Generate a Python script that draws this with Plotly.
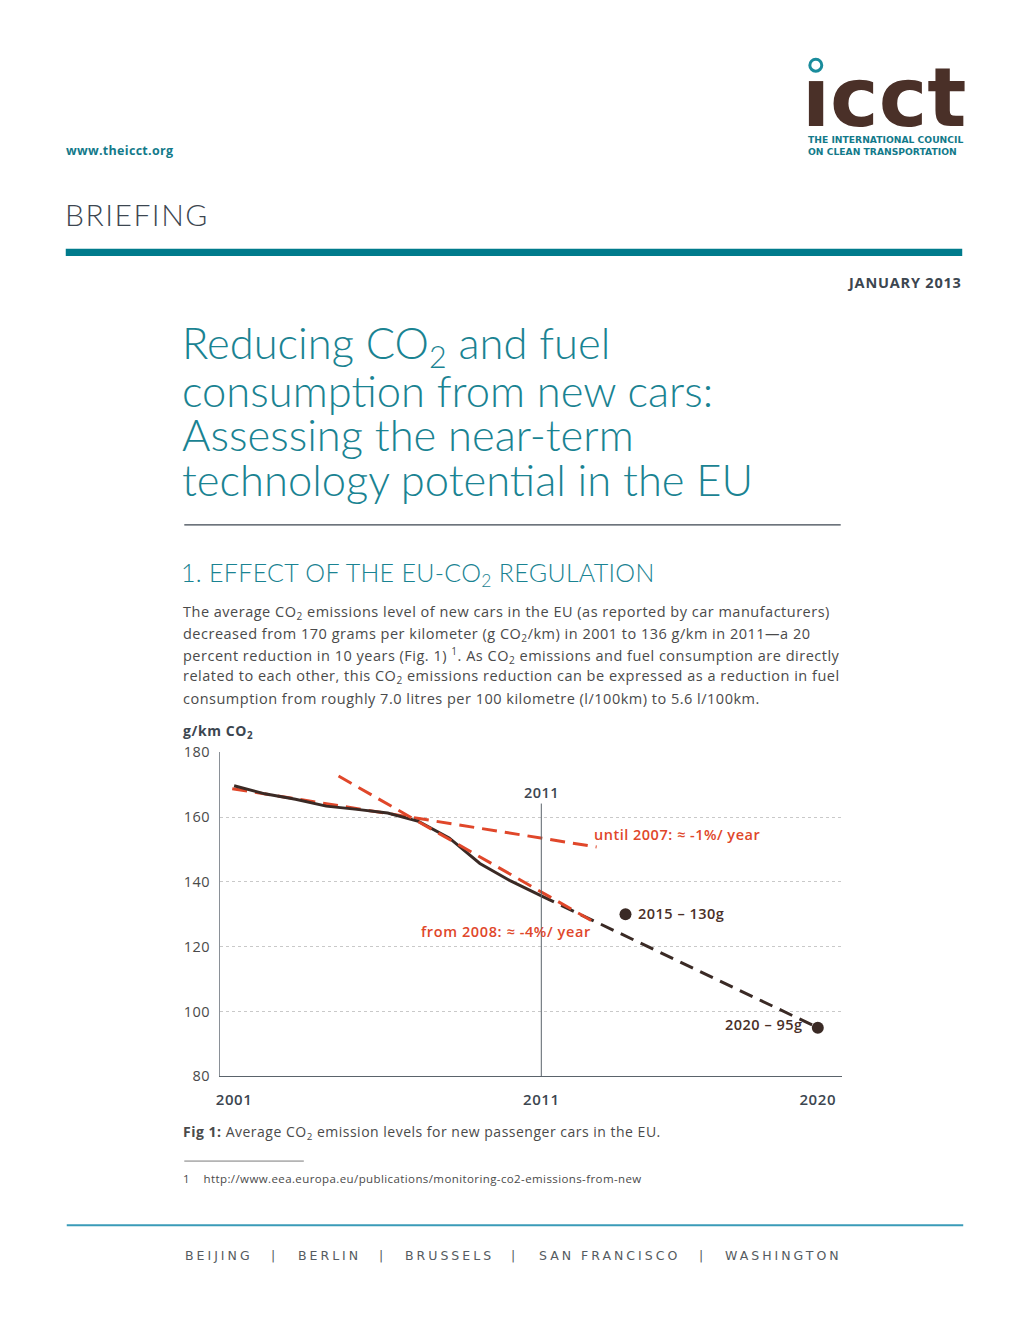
import plotly.graph_objects as go

# ---------------- data ----------------
years = [2001, 2002, 2003, 2004, 2005, 2006, 2007, 2008, 2009, 2010, 2011]
co2_reported = [169.7, 167.2, 165.5, 163.4, 162.4, 161.3, 158.7, 153.6, 145.7, 140.3, 135.7]

proj_years = [2011, 2020]
proj_values = [135.7, 95]

trend_until2007_x = [2000.94, 2012.8]
trend_until2007_y = [168.8, 150.8]
trend_from2008_x = [2004.4, 2012.64]
trend_from2008_y = [172.7, 128.0]

target_labels = ["2015 – 130g", "2020 – 95g"]
target_marker_x = [2013.74, 2020]
target_values = [130, 95]

x_ticks = [2001, 2011, 2020]
y_ticks = [80, 100, 120, 140, 160, 180]

W, H = 1020, 1320
TEAL = "#137a8a"
TITLE = "#1a8392"
BROWN = "#4a3028"
RED = "#e0472a"
DARK = "#3c4650"
BODY = "#4a4a4a"
SANS = "Open Sans"

def px(x):
    return x / W

def py(y):
    return 1 - y / H

def ls(text, sp):
    return '<span style="letter-spacing:%spx">%s</span>' % (sp, text)

fig = go.Figure()

fig.add_trace(go.Scatter(x=trend_until2007_x, y=trend_until2007_y, mode="lines",
                         line=dict(color=RED, width=3, dash="15px,8px"), hoverinfo="skip"))
fig.add_trace(go.Scatter(x=years, y=co2_reported, mode="lines",
                         line=dict(color="#3a2a25", width=3), hoverinfo="skip"))
fig.add_trace(go.Scatter(x=proj_years, y=proj_values, mode="lines",
                         line=dict(color="#3a2a25", width=3, dash="14px,8px"), hoverinfo="skip"))
fig.add_trace(go.Scatter(x=trend_from2008_x, y=trend_from2008_y, mode="lines",
                         line=dict(color=RED, width=3, dash="15px,8px"), hoverinfo="skip"))
fig.add_trace(go.Scatter(x=target_marker_x, y=target_values, mode="markers",
                         marker=dict(color="#3a2a25", size=12), hoverinfo="skip"))

# vertical 2011 line
fig.add_shape(type="line", xref="x", yref="y", x0=2011, x1=2011, y0=80, y1=164.2,
              line=dict(color="#5a636b", width=1))

ann = []

def txt(x, y, text, size, color, anchor="left", weight=400, family=SANS):
    ann.append(dict(x=px(x), y=py(y), xref="paper", yref="paper", text=text,
                    showarrow=False, xanchor=anchor, yanchor="middle", borderpad=0,
                    align="left",
                    font=dict(size=size, color=color, family=family, weight=weight)))

def hline(x0, x1, y, color, width):
    fig.add_shape(type="line", xref="paper", yref="paper", x0=px(x0), x1=px(x1),
                  y0=py(y), y1=py(y), line=dict(color=color, width=width))

# header
txt(61, 143, ls("www.theicct.org", 0.3), 12.5, TEAL, weight=700)
txt(800, 90, "ıcct", 82, BROWN, weight=700, family="DejaVu Sans")
fig.add_shape(type="circle", xref="paper", yref="paper",
              x0=px(809), x1=px(821), y0=py(63), y1=py(51),
              line=dict(color="#1a8c9c", width=3), fillcolor="rgba(0,0,0,0)")
txt(806, 138, "THE INTERNATIONAL COUNCIL<br>ON CLEAN TRANSPORTATION", 9.2, TEAL,
    weight=700, family="DejaVu Sans")

txt(60, 208, ls("BRIEFING", 1.5), 30, DARK, weight=300, family="Lato")
fig.add_shape(type="rect", xref="paper", yref="paper", x0=px(62), x1=px(962),
              y0=py(250.5), y1=py(243), line=dict(width=0), fillcolor="#007b8c")
txt(963, 277, ls("JANUARY 2013", 0.8), 14.5, DARK, anchor="right", weight=700)

# title
title_lines = ["Reducing CO<sub>2</sub> and fuel",
               "consumption from new cars:",
               "Assessing the near-term",
               "technology potential in the EU"]
for i, t in enumerate(title_lines):
    txt(178, 341 + 45 * i, t, 43.5, TITLE, weight=300, family="Lato")

hline(181, 840, 523, "#3c4650", 1.2)

txt(177, 573, ls("1. EFFECT OF THE EU-CO<sub>2</sub> REGULATION", 0.3), 25, TITLE, weight=300, family="Lato")

para = [
    "The average CO<sub>2</sub> emissions level of new cars in the EU (as reported by car manufacturers)",
    "decreased from 170 grams per kilometer (g CO<sub>2</sub>/km) in 2001 to 136 g/km in 2011—a 20",
    "percent reduction in 10 years (Fig. 1) <sup>1</sup>. As CO<sub>2</sub> emissions and fuel consumption are directly",
    "related to each other, this CO<sub>2</sub> emissions reduction can be expressed as a reduction in fuel",
    "consumption from roughly 7.0 litres per 100 kilometre (l/100km) to 5.6 l/100km.",
]
for i, t in enumerate(para):
    txt(179, 612 + 21.7 * i, ls(t, 0.5), 14.5, BODY)

txt(179, 732, ls("g/km CO<sub>2</sub>", 0.6), 14, DARK, weight=700)

# chart labels
txt(540, 794, ls("2011", 0.5), 14.5, DARK, anchor="center", weight=600)
txt(591, 837, ls("until 2007: ≈ -1%/ year", 0.5), 14.5, RED, weight=600)
txt(590, 935, ls("from 2008: ≈ -4%/ year", 0.6), 14.5, RED, anchor="right", weight=600)
txt(635, 917, ls(target_labels[0], 0.5), 14.5, BROWN, weight=600)
txt(803, 1030, ls(target_labels[1], 0.5), 14.5, BROWN, anchor="right", weight=600)

# caption and footnote
txt(179, 1139, ls("<b>Fig 1:</b> Average CO<sub>2</sub> emission levels for new passenger cars in the EU.", 0.5), 14, BODY)
hline(181, 301, 1168, "#7a7a7a", 1)
txt(179, 1186, ls("1    http://www.eea.europa.eu/publications/monitoring-co2-emissions-from-new", 0.4), 11.5, BODY)

# footer
hline(63, 963, 1233, "#3a9bb8", 2)
cities = [("BEIJING", 216), ("|", 272), ("BERLIN", 327), ("|", 380), ("BRUSSELS", 447),
          ("|", 513), ("SAN FRANCISCO", 608), ("|", 701), ("WASHINGTON", 783)]
for name, cx in cities:
    txt(cx, 1264, ls(name, 3), 12.5, "#555b61", anchor="center", family="DejaVu Sans")

fig.update_layout(
    width=W, height=H,
    margin=dict(l=0, r=0, t=0, b=0),
    paper_bgcolor="white", plot_bgcolor="white",
    showlegend=False, hovermode=False,
    annotations=ann,
    font=dict(family=SANS),
    xaxis=dict(domain=[px(217), px(841)], range=[2000.546, 2020.778],
               tickvals=x_ticks, ticktext=[ls(str(v), 0.6) for v in x_ticks],
               tickfont=dict(size=15, color=DARK, family=SANS, weight=600),
               showgrid=False, zeroline=False, showline=True,
               linecolor="#5a636b", linewidth=1.2, ticks="", ticklabelstandoff=10),
    yaxis=dict(domain=[py(1082), py(753)], range=[80, 180.2],
               tickvals=y_ticks, ticktext=[ls(str(v), 0.5) for v in y_ticks],
               tickfont=dict(size=14.5, color=BODY, family=SANS),
               showgrid=True, gridcolor="#c9c9c9", griddash="dot", gridwidth=1,
               zeroline=False, showline=True, linecolor="#8a9097", linewidth=1.2,
               ticks="", ticklabelstandoff=6),
)

fig.write_html("out.html", config={"displayModeBar": False},
               post_script="document.body.style.margin='0px';")
